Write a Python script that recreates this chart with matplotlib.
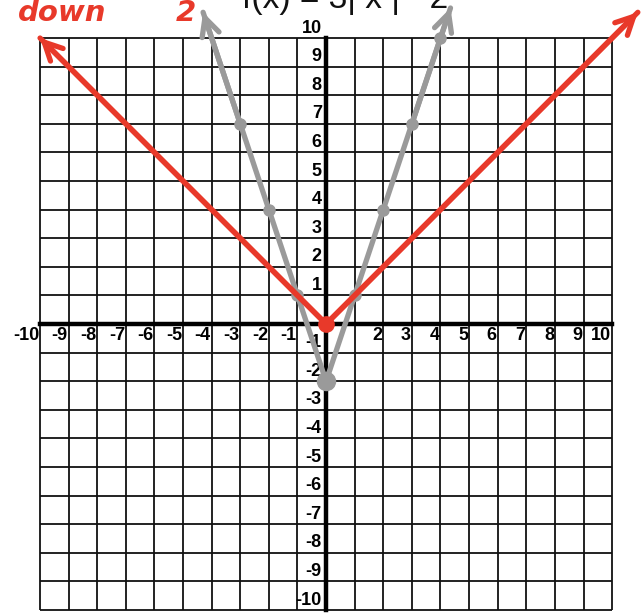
import numpy as np
import matplotlib.pyplot as plt

# data
ticks = list(range(-10, 11))
x_labels = [-10, -9, -8, -7, -6, -5, -4, -3, -2, -1, 2, 3, 4, 5, 6, 7, 8, 9, 10]
y_labels = [10, 9, 8, 7, 6, 5, 4, 3, 2, 1, -1, -2, -3, -4, -5, -6, -7, -8, -9, -10]

red_x = [-10, 0, 10.9]
red_y = [10, 0, 10.9]

gray_x = [-4.3, -4, -3, -2, -1, 0, 1, 2, 3, 4, 4.35]
gray_y = [10.9, 10, 7, 4, 1, -2, 1, 4, 7, 10, 11.05]
gray_pts_x = [-3, -2, -1, 1, 2, 3, 4]
gray_pts_y = [7, 4, 1, 1, 4, 7, 10]

RED = '#e8392a'
GRAY = '#9a9a9a'

fig = plt.figure(figsize=(6.41, 6.14), dpi=100)
ax = fig.add_axes([0, 0, 1, 1])
ax.set_xlim(-11.40, 11.01)
ax.set_ylim(-10.14, 11.33)
ax.axis('off')

# grid
ax.vlines(ticks, -10, 10, color='#111111', lw=1.3, zorder=1)
ax.hlines(ticks, -10, 10, color='#111111', lw=1.3, zorder=1)
ax.plot([-10, 10], [0, 0], color='black', lw=3.2, zorder=2)
ax.plot([0, 0], [-10, 10], color='black', lw=3.2, zorder=2)

lab_font = dict(family=['Liberation Sans Narrow', 'Liberation Sans', 'DejaVu Sans'],
                fontweight='bold', fontsize=13, color='black')
for v in x_labels:
    ax.text(v - 0.03, -0.12, str(v), ha='right', va='top', zorder=3, **lab_font)
for v in y_labels:
    ax.text(-0.15, v + 0.05, str(v), ha='right', va='bottom', zorder=3, **lab_font)

# red: f(x) = |x|
ax.plot(red_x, red_y, color=RED, lw=3.8, solid_capstyle='round', zorder=5)
ax.plot([0], [0], 'o', color=RED, ms=11, zorder=6)

# gray: f(x) = 3|x| - 2
ax.plot(gray_x, gray_y, color=GRAY, lw=3.8, solid_capstyle='round', zorder=4)
ax.plot(gray_pts_x, gray_pts_y, 'o', color=GRAY, ms=8, zorder=4)
ax.plot([0], [-2], 'o', color=GRAY, ms=13, zorder=4)

# open arrowheads at the ends
def arrow_head(ax, x0, y0, x1, y1, color):
    ax.annotate('', xy=(x1, y1), xytext=(x0, y0),
                arrowprops=dict(arrowstyle='->', color=color, lw=3.8,
                                mutation_scale=32, shrinkA=0, shrinkB=0),
                zorder=5, annotation_clip=False)

arrow_head(ax, red_x[1], red_y[1], red_x[0], red_y[0], RED)
arrow_head(ax, red_x[1], red_y[1], red_x[2], red_y[2], RED)
arrow_head(ax, gray_x[2], gray_y[2], gray_x[0], gray_y[0], GRAY)
arrow_head(ax, gray_x[-3], gray_y[-3], gray_x[-1], gray_y[-1], GRAY)

# title, cut off at the top as in the source
fig.text(345 / 641, 1 - 8 / 614, 'f(x) = 3| x | - 2', ha='center', va='baseline',
         fontsize=24, family='Liberation Sans', color='#111111')

# handwritten notes
fig.text(18 / 641, 1 - 21 / 614, 'down', ha='left', va='baseline', fontsize=21,
         color=RED, fontweight='bold', style='italic', family='DejaVu Sans')
fig.text(176 / 641, 1 - 21 / 614, '2', ha='left', va='baseline', fontsize=21,
         color=RED, fontweight='bold', style='italic', family='DejaVu Sans')

fig.savefig('out.png', dpi=100)
